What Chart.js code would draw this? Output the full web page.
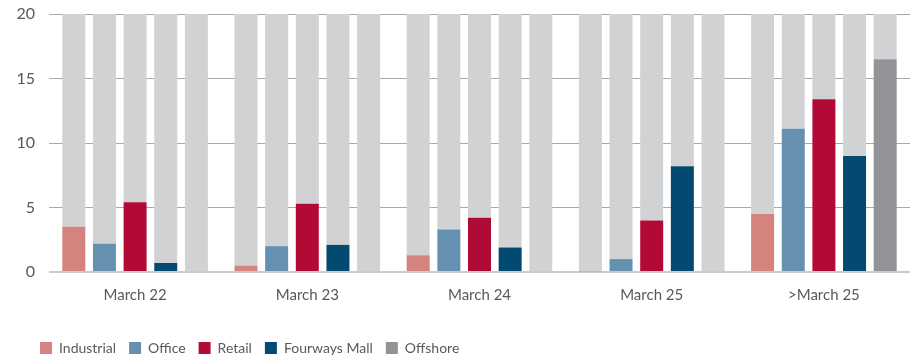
<!DOCTYPE html>
<html>
<head>
<meta charset="utf-8">
<script src="https://cdn.jsdelivr.net/npm/chart.js@4"></script>
<style>
  html, body { margin: 0; padding: 0; background: #fff; }
  #wrap { width: 910px; height: 355px; position: relative; }
</style>
</head>
<body>
<div id="wrap"><canvas id="vacancyChart"></canvas></div>
<script>
const categories = ['March 22', 'March 23', 'March 24', 'March 25', '>March 25'];
const seriesNames = ['Industrial', 'Office', 'Retail', 'Fourways Mall', 'Offshore'];
const industrial = [3.5, 0.5, 1.3, 0.05, 4.5];
const office = [2.2, 2.0, 3.3, 1.0, 11.1];
const retail = [5.4, 5.3, 4.2, 4.0, 13.4];
const fourways = [0.7, 2.1, 1.9, 8.2, 9.0];
const offshore = [0, 0, 0, 0, 16.5];
const yTicks = [0, 5, 10, 15, 20];
const scaleMax = 20;

const seriesValues = [industrial, office, retail, fourways, offshore];
const seriesColors = ['#d5837e', '#6590b0', '#b00a35', '#034a70', '#939498'];
const trackColor = '#d1d2d4';
const textColor = '#595959';

// coloured bars first, then the grey track stacked on top up to the scale max
const datasets = [];
seriesValues.forEach((vals, i) => {
    datasets.push({
        label: seriesNames[i],
        data: vals,
        backgroundColor: seriesColors[i],
        stack: 's' + i,
    });
});
seriesValues.forEach((vals, i) => {
    datasets.push({
        label: '',
        data: vals.map(v => scaleMax - v),
        backgroundColor: trackColor,
        stack: 's' + i,
    });
});

// pull the legend down to the bottom edge and indent it a little
const tightLegend = {
    id: 'tightLegend',
    beforeInit(chart) {
        const origFit = chart.legend.fit;
        chart.legend.fit = function () {
            origFit.call(this);
            this.height -= 10;
        };
    },
    afterLayout(chart) {
        chart.legend.left += 27;
    }
};

new Chart(document.getElementById('vacancyChart').getContext('2d'), {
    type: 'bar',
    data: { labels: categories, datasets: datasets },
    plugins: [tightLegend],
    options: {
        responsive: true,
        maintainAspectRatio: false,
        animation: false,
        layout: { padding: { top: 0, right: 0, left: 0, bottom: 0 } },
        datasets: {
            bar: {
                categoryPercentage: 0.89,
                barPercentage: 0.75,
            }
        },
        plugins: {
            tooltip: { enabled: false },
            legend: {
                position: 'bottom',
                align: 'start',
                labels: {
                    filter: item => item.text !== '',
                    boxWidth: 12,
                    boxHeight: 12,
                    padding: 13,
                    color: textColor,
                    font: { family: 'Lato', size: 14 },
                }
            }
        },
        scales: {
            x: {
                stacked: true,
                grid: { display: false },
                border: { display: false },
                ticks: {
                    color: textColor,
                    font: { family: 'Lato', size: 15 },
                    padding: 6,
                },
                afterFit: axis => { axis.height += 18; },
            },
            y: {
                stacked: true,
                min: 0,
                max: scaleMax,
                afterBuildTicks: axis => { axis.ticks = yTicks.map(v => ({ value: v })); },
                afterFit: axis => {
                    axis.width = 49;
                    axis.paddingTop = 14;
                },
                border: { display: false },
                grid: {
                    drawTicks: false,
                    color: c => c.tick.value === 0 ? '#cbcbcb' : '#a9a9a9',
                    lineWidth: c => c.tick.value === 0 ? 2 : 1,
                },
                ticks: {
                    color: textColor,
                    font: { family: 'Lato', size: 16 },
                    padding: 14,
                }
            }
        }
    }
});
</script>
</body>
</html>
